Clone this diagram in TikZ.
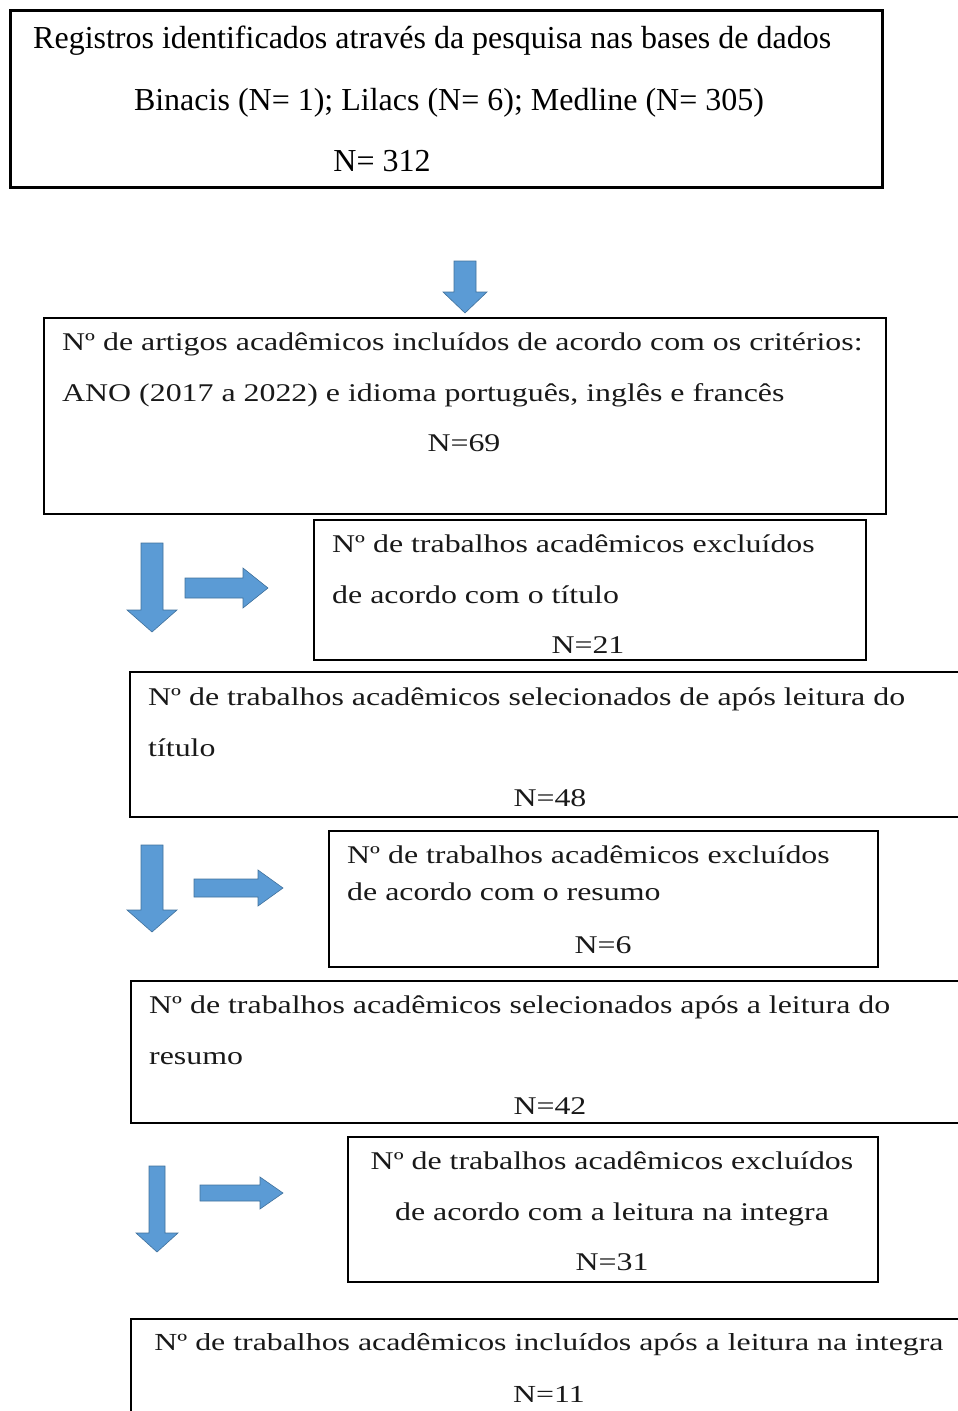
\documentclass[tikz,border=0pt]{standalone}
\usepackage{fontspec}
\usepackage{tikz}
\usetikzlibrary{positioning}
\newfontfamily\timesfont{Liberation Serif}
\newfontfamily\widefont[FakeStretch=1.25]{Liberation Serif}
\newfontfamily\lastfont[FakeStretch=1.3]{Liberation Serif}
\definecolor{arrowblue}{RGB}{91,155,213}
\definecolor{arrowedge}{RGB}{65,113,156}
% block arrows: centre, start, head base, tip, half shaft, half head
\newcommand{\vArrow}[6]{%
  \draw[blockarr] (#1-#5,#2) -- (#1+#5,#2) -- (#1+#5,#3) -- (#1+#6,#3)
    -- (#1,#4) -- (#1-#6,#3) -- (#1-#5,#3) -- cycle;}
\newcommand{\hArrow}[6]{%
  \draw[blockarr] (#2,#1-#5) -- (#2,#1+#5) -- (#3,#1+#5) -- (#3,#1+#6)
    -- (#4,#1) -- (#3,#1-#6) -- (#3,#1-#5) -- cycle;}

\begin{document}
\begin{tikzpicture}[
  x=1pt, y=-1pt,
  box/.style = {draw=black, line width=1.6pt, inner sep=0pt, anchor=north west},
  thickbox/.style = {box, line width=2.6pt},
  wtxt/.style = {inner sep=0pt, font=\widefont\fontsize{25.5}{30}\selectfont, text=black!90},
  ttxt/.style = {inner sep=0pt, font=\timesfont\fontsize{32}{38}\selectfont},
  ltxt/.style = {inner sep=0pt, font=\lastfont\fontsize{24.5}{30}\selectfont, text=black!90},
  blockarr/.style = {fill=arrowblue, draw=arrowedge, line width=0.6pt}
]
\useasboundingbox (0,0) rectangle (958,1411);
\clip (0,0) rectangle (958,1411);

% registros
\node[thickbox, minimum width=872, minimum height=177] (reg) at (9,9) {};
\node[ttxt, anchor=base west] (reg1) at (33,48) {Registros identificados através da pesquisa nas bases de dados};
\node[ttxt, anchor=base] (reg2) at (449,110) {Binacis (N= 1); Lilacs (N= 6); Medline (N= 305)};
\node[ttxt, anchor=base] (reg3) at (382,171) {N= 312};

\vArrow{465}{261}{292}{313}{11}{22}

% incluidos pelos criterios
\node[box, minimum width=842, minimum height=196] (crit) at (43,317) {};
\node[wtxt, anchor=mid west] (crit1) at (62,348) {Nº de artigos acadêmicos incluídos de acordo com os critérios:};
\node[wtxt, anchor=mid west] (crit2) at (62,399) {ANO (2017 a 2022) e idioma português, inglês e francês};
\node[wtxt, anchor=mid] (crit3) at (464,449) {N=69};

\vArrow{152}{543}{610}{632}{11}{25}
\hArrow{588}{185}{243}{268}{10}{20}

% excluidos pelo titulo
\node[box, minimum width=552, minimum height=140] (extit) at (313,519) {};
\node[wtxt, anchor=mid west] (extit1) at (332,550) {Nº de trabalhos acadêmicos excluídos};
\node[wtxt, anchor=mid west] (extit2) at (332,601) {de acordo com o título};
\node[wtxt, anchor=mid] (extit3) at (588,651) {N=21};

% selecionados pelo titulo
\node[box, minimum width=900, minimum height=145] (seltit) at (129,671) {};
\node[wtxt, anchor=mid west] (seltit1) at (148,703) {Nº de trabalhos acadêmicos selecionados de após leitura do};
\node[wtxt, anchor=mid west] (seltit2) at (148,754) {título};
\node[wtxt, anchor=mid] (seltit3) at (550,804) {N=48};

\vArrow{152}{845}{910}{932}{11}{25}
\hArrow{888}{194}{258}{283}{9}{18}

% excluidos pelo resumo
\node[box, minimum width=549, minimum height=136] (exres) at (328,830) {};
\node[wtxt, anchor=mid west] (exres1) at (347,861) {Nº de trabalhos acadêmicos excluídos};
\node[wtxt, anchor=mid west] (exres2) at (347,898) {de acordo com o resumo};
\node[wtxt, anchor=mid] (exres3) at (603,951) {N=6};

% selecionados pelo resumo
\node[box, minimum width=900, minimum height=142] (selres) at (130,980) {};
\node[wtxt, anchor=mid west] (selres1) at (149,1011) {Nº de trabalhos acadêmicos selecionados após a leitura do};
\node[wtxt, anchor=mid west] (selres2) at (149,1062) {resumo};
\node[wtxt, anchor=mid] (selres3) at (550,1112) {N=42};

\vArrow{157}{1166}{1233}{1252}{8}{21}
\hArrow{1193}{200}{260}{283}{8}{16}

% excluidos pela leitura
\node[box, minimum width=530, minimum height=145] (exint) at (347,1136) {};
\node[wtxt, anchor=mid] (exint1) at (612,1167) {Nº de trabalhos acadêmicos excluídos};
\node[wtxt, anchor=mid] (exint2) at (612,1218) {de acordo com a leitura na integra};
\node[wtxt, anchor=mid] (exint3) at (612,1268) {N=31};

% incluidos apos leitura
\node[box, minimum width=900, minimum height=150] (inint) at (130,1318) {};
\node[ltxt, anchor=base] (inint1) at (549,1350) {Nº de trabalhos acadêmicos incluídos após a leitura na integra};
\node[ltxt, anchor=base] (inint2) at (549,1402) {N=11};
\end{tikzpicture}
\end{document}
